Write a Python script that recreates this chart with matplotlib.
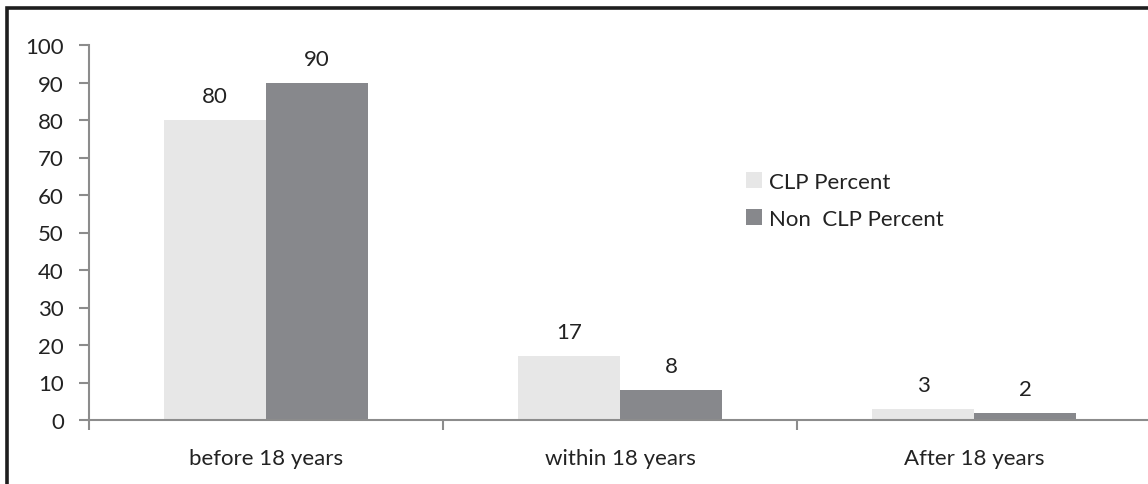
import matplotlib
matplotlib.use('Agg')
from matplotlib import pyplot as plt
from matplotlib.patches import Rectangle
from matplotlib.ticker import FixedLocator

categories = ['before 18 years', 'within 18 years', 'After 18 years']
clp = [80, 17, 3]
non_clp = [90, 8, 2]
yticks = [0, 10, 20, 30, 40, 50, 60, 70, 80, 90, 100]

plt.rcParams['font.family'] = ['Lato', 'DejaVu Sans']
fs = 16

fig = plt.figure(figsize=(11.48, 4.85), dpi=100)
ax = fig.add_axes([89 / 1148, 64 / 485, 1062 / 1148, 375 / 485])

w = 0.288
centers = [i + 0.5 for i in range(len(categories))]
b1 = ax.bar([c - w / 2 for c in centers], clp, width=w, color='#e7e7e7',
            edgecolor='none', label='CLP Percent')
b2 = ax.bar([c + w / 2 for c in centers], non_clp, width=w, color='#87888c',
            edgecolor='none', label='Non  CLP Percent')

for bars, vals in ((b1, clp), (b2, non_clp)):
    for r, v in zip(bars, vals):
        ax.annotate(str(v), (r.get_x() + r.get_width() / 2, v),
                    xytext=(0, 10), textcoords='offset points',
                    ha='center', va='bottom', fontsize=fs, color='#222222')

ax.set_xlim(0, 3)
ax.set_ylim(0, 100)
ax.set_yticks(yticks)
ax.set_xticks(centers)
ax.set_xticklabels(categories)
ax.xaxis.set_minor_locator(FixedLocator([0, 1, 2, 3]))
ax.tick_params(axis='x', which='major', length=0, pad=20, labelsize=fs,
               labelcolor='#222222')
ax.tick_params(axis='x', which='minor', length=7, width=1.5, color='#8c8c8c')
ax.tick_params(axis='y', length=7, width=1.5, color='#8c8c8c', pad=11,
               labelsize=fs, labelcolor='#222222')

for s in ('top', 'right'):
    ax.spines[s].set_visible(False)
for s in ('left', 'bottom'):
    ax.spines[s].set_color('#8c8c8c')
    ax.spines[s].set_linewidth(1.5)

fig.legend(handles=[b1, b2], loc='upper left',
           bbox_to_anchor=(726 / 1148, 1 - 153 / 485), frameon=False,
           fontsize=fs, handlelength=0.7, handleheight=0.7,
           handletextpad=0.35, labelspacing=0.75, labelcolor='#222222')

# outer frame around the whole chart
fig.add_artist(Rectangle((7 / 1148, -0.05), 1.1, 1.05 - 9 / 485,
                         transform=fig.transFigure, fill=False,
                         edgecolor='#1e1e1e', linewidth=2.6))

plt.savefig('out.png', dpi=100)
